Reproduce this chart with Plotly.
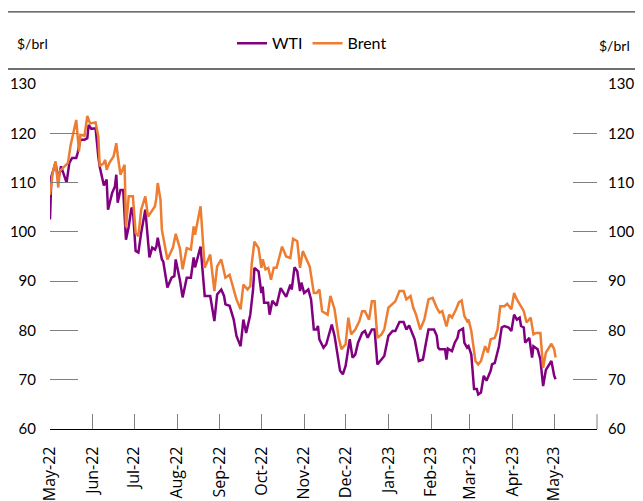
import pandas as pd
import plotly.graph_objects as go

# days since 1 May 2022
wti_day = [0, 1, 4, 6, 8, 12, 14, 16, 19, 20, 22, 25, 27, 28, 30, 33, 35, 36, 39, 41,
           42, 45, 47, 48, 49, 51, 53, 55, 57, 59, 60, 62, 64, 66, 69, 72, 74, 76, 77, 78,
           81, 82, 85, 88, 90, 91, 94, 96, 99, 102, 104, 105, 109, 112, 116, 119, 121, 124, 126, 127,
           130, 133, 135, 138, 140, 142, 145, 147, 148, 151, 153, 154, 155, 158, 159, 161, 164, 167, 171, 174,
           175, 177, 179, 181, 182, 184, 187, 189, 191, 193, 194, 195, 198, 200, 204, 206, 210, 212, 214, 216,
           217, 219, 221, 223, 226, 228, 230, 233, 235, 237, 240, 242, 245, 248, 250, 253, 256, 258, 260, 262,
           264, 267, 270, 272, 274, 278, 280, 281, 282, 286, 287, 288, 291, 293, 295, 296, 299, 300, 302, 303,
           305, 307, 309, 310, 312, 314, 316, 319, 320, 322, 325, 327, 329, 332, 334, 336, 338, 340, 341, 343,
           344, 347, 349, 350, 353, 355, 357, 359, 362, 363, 365, 366]
wti = [102.5, 111.2, 114.0, 110.6, 113.3, 110.0, 114.0, 115.0, 115.0, 116.0, 118.7, 118.7, 119.0, 121.7, 120.9, 121.0, 115.2, 113.2, 109.4, 110.6,
       104.5, 107.9, 109.2, 111.6, 105.9, 108.5, 108.5, 98.4, 101.1, 104.9, 104.5, 96.1, 95.8, 99.8, 104.5, 94.8, 96.8, 96.4, 97.0, 98.8,
       94.4, 94.0, 88.7, 90.7, 91.0, 94.4, 90.3, 86.7, 90.7, 90.7, 94.8, 92.8, 97.0, 87.0, 87.0, 81.9, 87.3, 88.3, 87.0, 85.3,
       85.0, 82.2, 78.9, 76.8, 82.2, 79.5, 83.2, 88.3, 92.7, 92.0, 87.6, 88.9, 85.6, 85.6, 83.2, 86.0, 85.0, 88.6, 86.8, 89.3,
       88.3, 92.8, 92.0, 88.0, 89.7, 87.6, 88.3, 86.3, 80.2, 80.2, 80.9, 78.2, 76.5, 77.2, 81.2, 78.9, 71.8, 71.1, 72.8, 76.2,
       78.2, 74.5, 75.1, 77.5, 79.5, 79.9, 78.5, 80.2, 80.2, 73.1, 74.1, 74.8, 78.9, 79.9, 79.9, 81.7, 81.7, 80.2, 81.0, 79.5,
       78.2, 73.8, 74.1, 77.2, 80.2, 80.2, 78.9, 76.5, 76.2, 76.2, 74.1, 76.3, 75.8, 77.5, 78.5, 79.9, 80.4, 77.5, 76.5, 76.8,
       75.1, 68.1, 68.1, 67.0, 67.4, 70.8, 69.8, 71.8, 73.1, 73.4, 76.8, 80.6, 80.9, 80.6, 79.9, 83.2, 82.2, 82.6, 80.9, 80.6,
       77.5, 78.5, 74.5, 76.8, 76.2, 74.1, 68.7, 72.0, 73.4, 73.8, 70.8, 70.1]

brent_day = [0, 2, 4, 6, 7, 13, 15, 17, 19, 21, 22, 25, 27, 29, 33, 35, 36, 39, 40, 41,
             43, 46, 48, 49, 51, 54, 55, 57, 60, 62, 64, 66, 69, 71, 74, 76, 77, 78, 80, 81,
             85, 87, 89, 91, 94, 96, 99, 102, 104, 105, 109, 112, 116, 119, 121, 124, 127, 130, 133, 135,
             138, 140, 143, 145, 146, 148, 151, 153, 154, 156, 158, 160, 162, 164, 168, 171, 174, 176, 179, 181,
             183, 186, 188, 191, 193, 195, 197, 201, 203, 206, 209, 211, 214, 216, 218, 221, 224, 226, 228, 231,
             233, 235, 237, 240, 242, 245, 248, 250, 253, 256, 258, 261, 263, 265, 268, 271, 274, 277, 280, 282,
             284, 287, 289, 291, 294, 296, 298, 300, 302, 303, 305, 308, 310, 312, 315, 317, 319, 322, 324, 326,
             329, 331, 334, 336, 338, 340, 343, 345, 348, 350, 352, 355, 357, 359, 363, 365, 366]
brent = [107.5, 112.0, 114.3, 109.0, 112.3, 114.0, 117.7, 120.0, 122.7, 116.3, 119.7, 119.5, 123.5, 122.0, 122.2, 119.3, 113.3, 114.0, 114.6, 112.6,
         114.0, 115.3, 118.0, 115.6, 111.6, 113.6, 100.9, 107.2, 107.2, 99.8, 99.1, 104.5, 107.2, 103.1, 104.5, 105.2, 106.9, 109.9, 106.5, 100.4,
         94.4, 95.8, 96.8, 99.6, 96.7, 92.4, 96.7, 96.4, 101.1, 99.4, 105.2, 92.7, 95.4, 88.0, 93.0, 94.4, 90.7, 91.3, 88.0, 86.3,
         84.3, 89.3, 88.3, 89.0, 93.4, 98.0, 96.7, 92.7, 94.4, 92.4, 92.7, 90.3, 92.7, 92.7, 97.0, 95.0, 94.7, 98.6, 98.1, 92.7,
         96.1, 94.1, 93.0, 87.6, 87.6, 88.3, 83.9, 83.2, 87.0, 84.3, 78.5, 76.2, 77.2, 82.6, 79.2, 80.2, 81.9, 83.9, 83.9, 82.2,
         85.9, 85.9, 78.5, 79.2, 80.2, 84.6, 85.3, 85.9, 88.0, 88.0, 86.3, 87.0, 84.6, 83.2, 80.2, 82.2, 86.3, 86.6, 84.6, 83.6,
         83.9, 80.8, 83.2, 82.6, 84.3, 85.7, 86.1, 82.9, 81.9, 82.2, 79.9, 73.8, 73.1, 73.8, 76.8, 75.5, 78.2, 78.5, 80.2, 84.9,
         84.9, 85.4, 84.3, 87.6, 86.3, 85.3, 83.9, 81.6, 82.6, 79.2, 79.5, 79.5, 72.4, 75.5, 77.3, 76.2, 74.5]

month_ticks = pd.date_range("2022-05-01", "2023-05-01", freq="MS")
month_labels = [d.strftime("%b-%y") for d in month_ticks]

start = pd.Timestamp("2022-05-01")
wti_dates = start + pd.to_timedelta(wti_day, unit="D")
brent_dates = start + pd.to_timedelta(brent_day, unit="D")

font_main = "Lato, Carlito, sans-serif"

fig = go.Figure()
fig.add_trace(go.Scatter(x=wti_dates, y=wti, name="WTI", mode="lines",
                         line=dict(color="#800080", width=2.5)))
fig.add_trace(go.Scatter(x=brent_dates, y=brent, name="Brent", mode="lines",
                         line=dict(color="#ED7D31", width=2.5), yaxis="y2"))

# page body adds an 8px offset, so the figure is 8px smaller each way
fig.update_layout(
    width=635, height=493,
    margin=dict(l=42, r=46, t=76, b=72),
    plot_bgcolor="white", paper_bgcolor="white",
    font=dict(family=font_main, size=16, color="#000000"),
    showlegend=True,
    legend=dict(orientation="h", x=0.479, y=1.118, xanchor="center", yanchor="middle",
                font=dict(size=16), itemwidth=30, traceorder="normal",
                bgcolor="rgba(0,0,0,0)"),
    xaxis=dict(type="date", range=["2022-05-01", "2023-06-01"], automargin=False,
               tickvals=month_ticks, ticktext=month_labels, tickangle=-90,
               ticks="inside", ticklen=15, tickcolor="#808080", tickwidth=1,
               showline=True, linecolor="#000000", linewidth=1.2,
               showgrid=False, zeroline=False, ticklabelstandoff=10,
               tickfont=dict(family="Open Sans, sans-serif", size=16)),
    yaxis=dict(range=[60, 130], dtick=10, ticks="inside", ticklen=28, automargin=False,
               tickcolor="#808080", tickwidth=1.2, showline=False,
               showgrid=False, zeroline=False, tickfont=dict(size=15),
               ticklabelstandoff=13),
    yaxis2=dict(range=[60, 130], dtick=10, ticks="inside", ticklen=24, automargin=False,
                tickcolor="#808080", tickwidth=1.2, showline=False,
                showgrid=False, zeroline=False, overlaying="y", side="right",
                tickfont=dict(size=15), ticklabelstandoff=10),
    shapes=[
        dict(type="line", xref="paper", yref="paper", x0=-0.08, x1=1.09, y0=1.209, y1=1.209,
             line=dict(color="#404040", width=1.2)),
        dict(type="line", xref="paper", yref="paper", x0=-0.08, x1=1.09, y0=1.0435, y1=1.0435,
             line=dict(color="#707070", width=2)),
        dict(type="line", xref="paper", yref="paper", x0=1, x1=1, y0=0, y1=0.043,
             line=dict(color="#808080", width=1)),
    ],
    annotations=[
        dict(text="$/brl", xref="paper", yref="paper", x=-0.064, y=1.118,
             xanchor="left", yanchor="middle", showarrow=False, font=dict(size=14)),
        dict(text="$/brl", xref="paper", yref="paper", x=1.0, y=1.112,
             xanchor="left", yanchor="middle", showarrow=False, font=dict(size=14)),
    ],
)

fig.write_html("out.html")
